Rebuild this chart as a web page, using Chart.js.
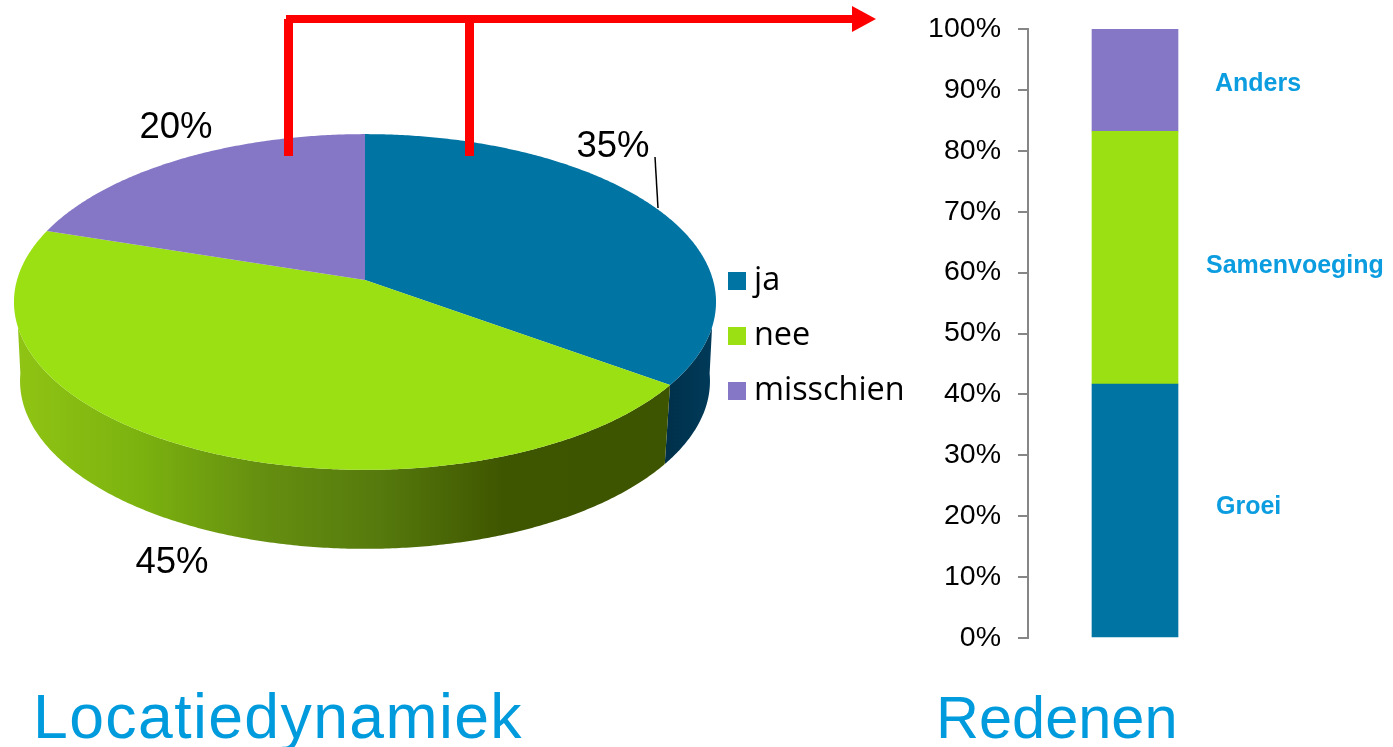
<!DOCTYPE html>
<html>
<head>
<meta charset="utf-8">
<title>Locatiedynamiek</title>
<script src="https://cdn.jsdelivr.net/npm/chart.js@4"></script>
<style>
	html, body { margin: 0; padding: 0; background: #fff; width: 1393px; height: 747px; overflow: hidden; }
	canvas { position: absolute; }
	#pieChart { left: 0; top: 0; }
	#barChart { left: 920px; top: 0; }
	.title { position: absolute; color: #009bdd; font-family: "Liberation Sans", sans-serif; line-height: 1; white-space: nowrap; }
	#pieTitle { left: 33px; top: 685px; font-size: 62.5px; letter-spacing: 1.4px; }
	#barTitle { left: 936px; top: 688px; font-size: 59.5px; }
	#legend { position: absolute; left: 728px; top: 250px; font-family: "Open Sans", sans-serif; font-size: 32.4px; color: #000; }
	#legend .row { height: 55px; line-height: 55px; white-space: nowrap; }
	#legend .box { display: inline-block; width: 18px; height: 18px; margin-right: 8px; }
</style>
</head>
<body>
<canvas id="pieChart" width="920" height="747"></canvas>
<canvas id="barChart" width="473" height="747"></canvas>
<div id="legend"></div>
<div class="title" id="pieTitle">Locatiedynamiek</div>
<div class="title" id="barTitle">Redenen</div>
<script>
	const pieLabels = ['ja', 'nee', 'misschien'];
	const pieValues = [35, 45, 20];
	const barCategories = ['Redenen'];
	const barSeries = ['Groei', 'Samenvoeging', 'Anders'];
	const barValues = [41.7, 41.5, 16.8];
	const barTicks = [0, 10, 20, 30, 40, 50, 60, 70, 80, 90, 100];
	const sliceColors = ['#0074a2', '#9be012', '#8577c5'];

	var deg = Math.PI / 180;

	// the pie lies tilted, so the circle is pushed through a small perspective
	var project = function (angle, low) {
		var u = Math.cos(angle), v = Math.sin(angle);
		var w = 1 - 0.131 * v;
		var rx = low ? 342 : 348;
		return [365 + rx * u / w, (low ? 359 : 280) + 165 * v / w];
	};

	var rim = function (ctx, from, to, low) {
		var n = Math.max(2, Math.ceil(Math.abs(to - from) / (0.5 * deg)));
		for (var i = 0; i <= n; i++) {
			var p = project(from + (to - from) * i / n, low);
			ctx.lineTo(p[0], p[1]);
		}
	};

	var wallFill = function (ctx, index) {
		var g = ctx.createLinearGradient(20, 0, 710, 0);
		if (index === 0) {
			g.addColorStop(0.93, '#002f49');
			g.addColorStop(1, '#003a58');
			return g;
		}
		g.addColorStop(0, '#8fc414');
		g.addColorStop(0.17, '#7cb30f');
		g.addColorStop(0.35, '#658f10');
		g.addColorStop(0.52, '#567a0d');
		g.addColorStop(0.7, '#3f5600');
		g.addColorStop(1, '#3d5400');
		return g;
	};

	var pie3d = {
		id: 'pie3d',
		beforeDatasetDraw: function (chart) {
			var ctx = chart.ctx;
			var arcs = chart.getDatasetMeta(0).data;
			ctx.save();
			arcs.forEach(function (arc, i) {
				var a = Math.max(arc.startAngle, 16 * deg);
				var b = Math.min(arc.endAngle, 164 * deg);
				if (a >= b) {
					return;
				}
				// the lower rim reaches a little further round than the upper one
				var lowA = a === 16 * deg ? 5 * deg : a;
				var lowB = b === 164 * deg ? 175 * deg : b;
				ctx.beginPath();
				rim(ctx, a, b, false);
				rim(ctx, lowB, lowA, true);
				ctx.closePath();
				ctx.fillStyle = wallFill(ctx, i);
				ctx.fill();
			});
			arcs.forEach(function (arc, i) {
				ctx.beginPath();
				ctx.moveTo(365, 280);
				rim(ctx, arc.startAngle, arc.endAngle, false);
				ctx.closePath();
				ctx.fillStyle = sliceColors[i];
				ctx.fill();
			});
			ctx.restore();
			return false;
		},
		afterDraw: function (chart) {
			var ctx = chart.ctx;
			ctx.save();

			// leader line of the 35% label
			ctx.strokeStyle = '#000';
			ctx.lineWidth = 1.5;
			ctx.beginPath();
			ctx.moveTo(655, 157);
			ctx.lineTo(658, 208);
			ctx.stroke();

			ctx.fillStyle = '#000';
			ctx.font = '36.5px "Liberation Sans", sans-serif';
			ctx.textAlign = 'center';
			ctx.textBaseline = 'middle';
			var spots = [[613, 147], [172, 563], [176, 128]];
			pieValues.forEach(function (v, i) {
				ctx.fillText(v + '%', spots[i][0], spots[i][1]);
			});

			// red arrow
			ctx.fillStyle = '#ff0000';
			ctx.fillRect(284, 19, 9, 137);
			ctx.fillRect(465, 20, 9, 136);
			ctx.fillRect(286, 15, 568, 8);
			ctx.beginPath();
			ctx.moveTo(852, 6);
			ctx.lineTo(876, 19);
			ctx.lineTo(852, 32);
			ctx.closePath();
			ctx.fill();
			ctx.restore();
		}
	};

	var segmentLabels = {
		id: 'segmentLabels',
		afterDatasetsDraw: function (chart) {
			var ctx = chart.ctx;
			var nudge = [[81, -3], [71, 8], [80, 4]];
			ctx.save();
			ctx.fillStyle = '#0b9ddf';
			ctx.font = 'bold 25px "Liberation Sans", sans-serif';
			ctx.textAlign = 'left';
			ctx.textBaseline = 'middle';
			chart.data.datasets.forEach(function (ds, i) {
				var bar = chart.getDatasetMeta(i).data[0];
				ctx.fillText(ds.label, bar.x + nudge[i][0], (bar.y + bar.base) / 2 + nudge[i][1]);
			});
			ctx.restore();
		}
	};

	new Chart(document.getElementById('pieChart'), {
		type: 'pie',
		data: {
			labels: pieLabels,
			datasets: [{ data: pieValues, backgroundColor: sliceColors, borderWidth: 0 }]
		},
		options: {
			responsive: false,
			animation: false,
			events: [],
			plugins: { legend: { display: false }, tooltip: { enabled: false } }
		},
		plugins: [pie3d]
	});

	new Chart(document.getElementById('barChart'), {
		type: 'bar',
		data: {
			labels: barCategories,
			datasets: barSeries.map(function (name, i) {
				return { label: name, data: [barValues[i]], backgroundColor: sliceColors[i], barThickness: 86 };
			})
		},
		options: {
			responsive: false,
			animation: false,
			events: [],
			layout: { padding: { top: 29, bottom: 109, right: 151, left: 0 } },
			plugins: { legend: { display: false }, tooltip: { enabled: false } },
			scales: {
				x: { stacked: true, display: false },
				y: {
					stacked: true,
					min: 0,
					max: 100,
					afterFit: function (scale) {
						scale.width = 108;
						// tick padding would otherwise push the plot down
						scale.paddingTop = 0;
						scale.paddingBottom = 0;
					},
					afterBuildTicks: function (scale) {
						scale.ticks = barTicks.map(function (v) { return { value: v }; });
					},
					border: { color: '#868686', width: 2 },
					grid: { drawOnChartArea: false, color: '#868686', lineWidth: 2, tickLength: 10 },
					ticks: {
						color: '#000',
						padding: 17,
						font: { family: '"Liberation Sans", sans-serif', size: 28.5 },
						callback: function (v) { return v + '%'; }
					}
				}
			}
		},
		plugins: [segmentLabels]
	});

	var legend = document.getElementById('legend');
	pieLabels.forEach(function (name, i) {
		var row = document.createElement('div');
		row.className = 'row';
		var box = document.createElement('span');
		box.className = 'box';
		box.style.background = sliceColors[i];
		row.appendChild(box);
		row.appendChild(document.createTextNode(name));
		legend.appendChild(row);
	});
</script>
</body>
</html>
